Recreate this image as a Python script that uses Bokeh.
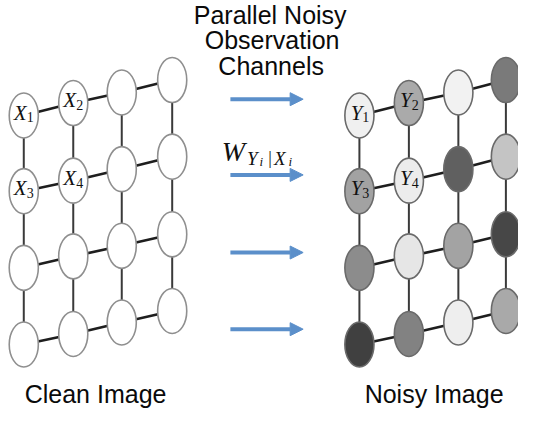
from bokeh.plotting import figure
from bokeh.models import Range1d, Arrow, NormalHead
from bokeh.core.properties import value
from bokeh.embed import file_html
from bokeh.resources import INLINE

# ---- data ----
clean_col_x = [24, 75, 125, 177]
noisy_col_x = [370, 421, 472, 521]
# node centre heights (image pixels, downwards) for each column, rows top->bottom
col_rows_y = [[120, 199, 279, 359],
              [107, 188, 267, 348],
              [96, 176, 256, 336],
              [83, 163, 244, 324]]
# grey levels of the noisy nodes, rows top->bottom, columns left->right
noisy_gray = [["#f0f0f0", "#aaaaaa", "#f2f2f2", "#7a7a7a"],
              ["#a2a2a2", "#ececec", "#606060", "#c4c4c4"],
              ["#8c8c8c", "#e6e6e6", "#a3a3a3", "#474747"],
              ["#404040", "#828282", "#eeeeee", "#a9a9a9"]]
clean_labels = ["X", "X", "X", "X"]
noisy_labels = ["Y", "Y", "Y", "Y"]
label_idx = ["1", "2", "3", "4"]
label_nodes = [(0, 0), (1, 0), (0, 1), (1, 1)]  # (col, row)
arrow_y = [103, 182, 263, 343]
arrow_x = [237, 312]
title_lines = ["Parallel Noisy", "Observation", "Channels"]
bottom_labels = ["Clean Image", "Noisy Image"]

W, H = 534, 431
TY = -7  # text baseline correction
p = figure(frame_width=518, frame_height=413, x_range=Range1d(0, W), y_range=Range1d(H, 0),
           x_axis_type=None, y_axis_type=None,
           output_backend="svg", toolbar_location=None, min_border=0)
p.grid.visible = False
p.outline_line_color = None
p.background_fill_color = "white"
p.border_fill_color = "white"

def draw_grid(col_x, fills, outline):
    hx0, hy0, hx1, hy1 = [], [], [], []
    vx0, vy0, vx1, vy1 = [], [], [], []
    for c in range(4):
        for r in range(4):
            if c < 3:
                hx0.append(col_x[c]); hy0.append(col_rows_y[c][r])
                hx1.append(col_x[c + 1]); hy1.append(col_rows_y[c + 1][r])
            if r < 3:
                vx0.append(col_x[c]); vy0.append(col_rows_y[c][r])
                vx1.append(col_x[c]); vy1.append(col_rows_y[c][r + 1])
    p.segment(hx0, hy0, hx1, hy1, line_color="#1e1e1e", line_width=2.6)
    p.segment(vx0, vy0, vx1, vy1, line_color="#3a3a3a", line_width=2.0)
    xs, ys, fc = [], [], []
    for c in range(4):
        for r in range(4):
            xs.append(col_x[c]); ys.append(col_rows_y[c][r]); fc.append(fills[r][c])
    p.ellipse(xs, ys, width=30, height=47, fill_color=fc, line_color=outline, line_width=1.6)

white = [["white"] * 4 for _ in range(4)]
draw_grid(clean_col_x, white, "#8f8f8f")
draw_grid(noisy_col_x, noisy_gray, "#6a6a6a")

def node_labels(col_x, letters):
    lx, ly, sx, sy = [], [], [], []
    for (c, r) in label_nodes:
        cx, cy = col_x[c], col_rows_y[c][r]
        lx.append(cx + 3); ly.append(cy + 4 + TY)
        sx.append(cx + 3); sy.append(cy + 9 + TY)
    p.text(lx, ly, text=letters, text_font=value("Liberation Serif"), text_font_style="italic",
           text_font_size="21px", text_align="right", text_baseline="alphabetic", text_color="#111111")
    p.text(sx, sy, text=label_idx, text_font=value("Liberation Serif"),
           text_font_size="14px", text_align="left", text_baseline="alphabetic", text_color="#111111")

node_labels(clean_col_x, clean_labels)
node_labels(noisy_col_x, noisy_labels)

# arrows
for ay in arrow_y:
    p.add_layout(Arrow(x_start=arrow_x[0], y_start=ay, x_end=arrow_x[1], y_end=ay,
                       line_color="#5b8fca", line_width=4,
                       end=NormalHead(size=13, fill_color="#5b8fca", line_color="#5b8fca")))

# title
p.text([278, 280, 279], [22 + TY, 48 + TY, 75 + TY], text=title_lines, text_font=value("Liberation Sans"),
       text_font_size="25px", text_align="center", text_baseline="alphabetic", text_color="#0a0a0a")

# bottom labels
p.text([98, 447], [418 + TY, 418 + TY], text=bottom_labels, text_font=value("Liberation Sans"),
       text_font_size="25px", text_align="center", text_baseline="alphabetic", text_color="#0a0a0a")

# W_{Y_i|X_i}
serif = value("Liberation Serif")
p.text([228], [165 + TY], text=["W"], text_font=serif, text_font_style="italic", text_font_size="28px",
       text_align="left", text_baseline="alphabetic", text_color="#111111")
p.text([254, 282], [172 + TY, 172 + TY], text=["Y", "X"], text_font=serif, text_font_style="italic",
       text_font_size="19px", text_align="left", text_baseline="alphabetic", text_color="#111111")
p.text([267, 297], [175 + TY, 175 + TY], text=["i", "i"], text_font=serif, text_font_style="italic",
       text_font_size="13px", text_align="left", text_baseline="alphabetic", text_color="#111111")
p.text([276], [171 + TY], text=["|"], text_font=serif, text_font_size="18px",
       text_align="left", text_baseline="alphabetic", text_color="#111111")

open("out.html", "w").write(file_html(p, INLINE))
